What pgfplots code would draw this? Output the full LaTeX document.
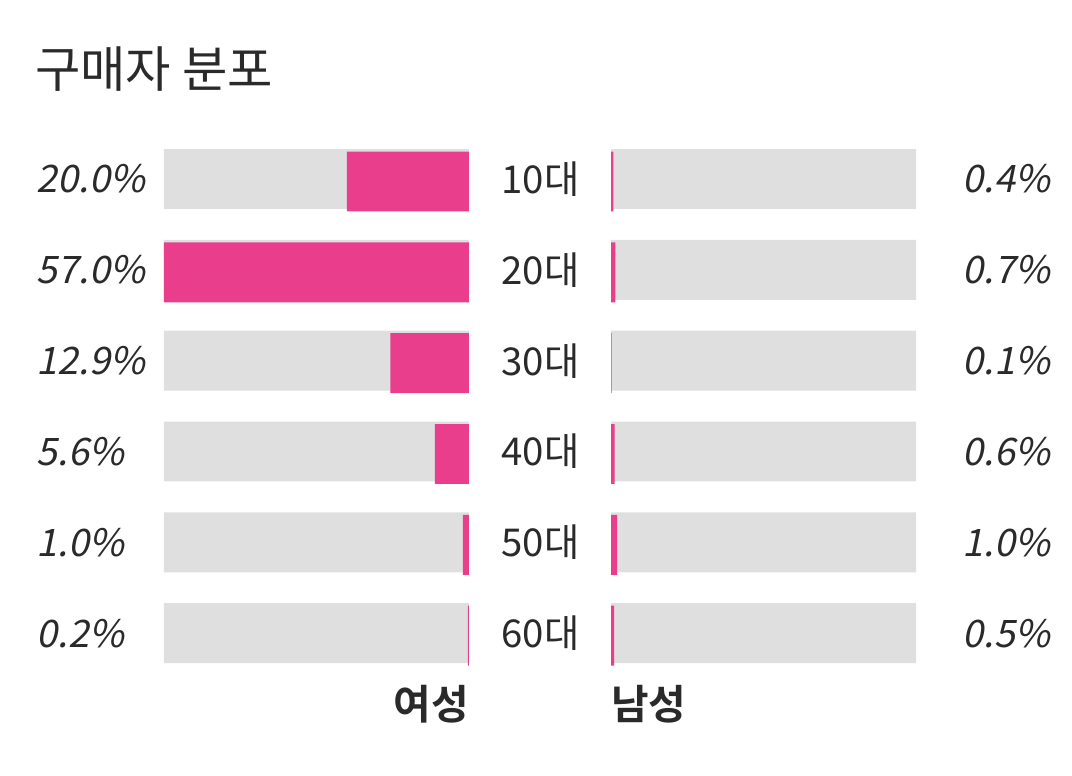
\documentclass[border=0pt]{standalone}
\usepackage{fontspec}
\usepackage{pgfplots}
\pgfplotsset{compat=1.18}
\setmainfont{Noto Sans CJK KR}
\newfontfamily\pctfont[FakeSlant=0.2]{Noto Sans CJK KR}
\newfontfamily\boldkr{Noto Sans CJK KR Bold}
\definecolor{pinkbar}{HTML}{E83E8C}
\definecolor{graybar}{HTML}{DFDFDF}
\definecolor{txt}{HTML}{2A2A2A}

\tikzset{
  pct/.style={text=txt, inner sep=0pt, font=\pctfont\fontsize{38}{40}\selectfont},
  cat/.style={text=txt, inner sep=0pt, anchor=center, font=\fontsize{38.5}{40}\selectfont},
  sex/.style={text=txt, inner sep=0pt, font=\boldkr\fontsize{41}{44}\selectfont},
}
\pgfplotsset{
  panel/.style={
    scale only axis, width=305bp, height=545bp,
    xmin=0, xmax=50, ymin=-0.5, ymax=5.5, y dir=reverse,
    axis lines=none, clip mode=individual,
  },
  bg/.style={xbar, bar width=0.66, bar shift=0pt, fill=graybar, draw=none},
  fg/.style={xbar, bar width=0.66, bar shift=-2.5bp, fill=pinkbar, draw=none},
}

\begin{document}
\begin{tikzpicture}
\path[use as bounding box] (0bp,0bp) rectangle (1072bp,776bp);
\node[anchor=west, inner sep=0pt, text=txt, font=\fontsize{49.5}{52}\selectfont] at (35bp,707bp) {구매자 분포};

% 여성
\begin{axis}[panel, at={(164bp,642.4bp)}, anchor=north west, x dir=reverse]
\addplot[bg] coordinates {(50,0) (50,1) (50,2) (50,3) (50,4) (50,5)};
\addplot[fg] coordinates {(20.0,0) (57.0,1) (12.9,2) (5.6,3) (1.0,4) (0.2,5)};
\node[pct, anchor=west] at (axis cs:70.9,0) {20.0\%};
\node[pct, anchor=west] at (axis cs:70.9,1) {57.0\%};
\node[pct, anchor=west] at (axis cs:70.9,2) {12.9\%};
\node[pct, anchor=west] at (axis cs:70.9,3) {5.6\%};
\node[pct, anchor=west] at (axis cs:70.9,4) {1.0\%};
\node[pct, anchor=west] at (axis cs:70.9,5) {0.2\%};
\node[sex, anchor=east] at (axis cs:0,5.78) {여성};
\end{axis}

% 남성
\begin{axis}[panel, at={(611bp,642.4bp)}, anchor=north west]
\addplot[bg] coordinates {(50,0) (50,1) (50,2) (50,3) (50,4) (50,5)};
\addplot[fg] coordinates {(0.4,0) (0.7,1) (0.1,2) (0.6,3) (1.0,4) (0.5,5)};
\node[pct, anchor=east] at (axis cs:72.0,0) {0.4\%};
\node[pct, anchor=east] at (axis cs:72.0,1) {0.7\%};
\node[pct, anchor=east] at (axis cs:72.0,2) {0.1\%};
\node[pct, anchor=east] at (axis cs:72.0,3) {0.6\%};
\node[pct, anchor=east] at (axis cs:72.0,4) {1.0\%};
\node[pct, anchor=east] at (axis cs:72.0,5) {0.5\%};
\node[cat] at (axis cs:-11.56,0) {10대};
\node[cat] at (axis cs:-11.56,1) {20대};
\node[cat] at (axis cs:-11.56,2) {30대};
\node[cat] at (axis cs:-11.56,3) {40대};
\node[cat] at (axis cs:-11.56,4) {50대};
\node[cat] at (axis cs:-11.56,5) {60대};
\node[sex, anchor=west] at (axis cs:0,5.78) {남성};
\end{axis}
\end{tikzpicture}
\end{document}
